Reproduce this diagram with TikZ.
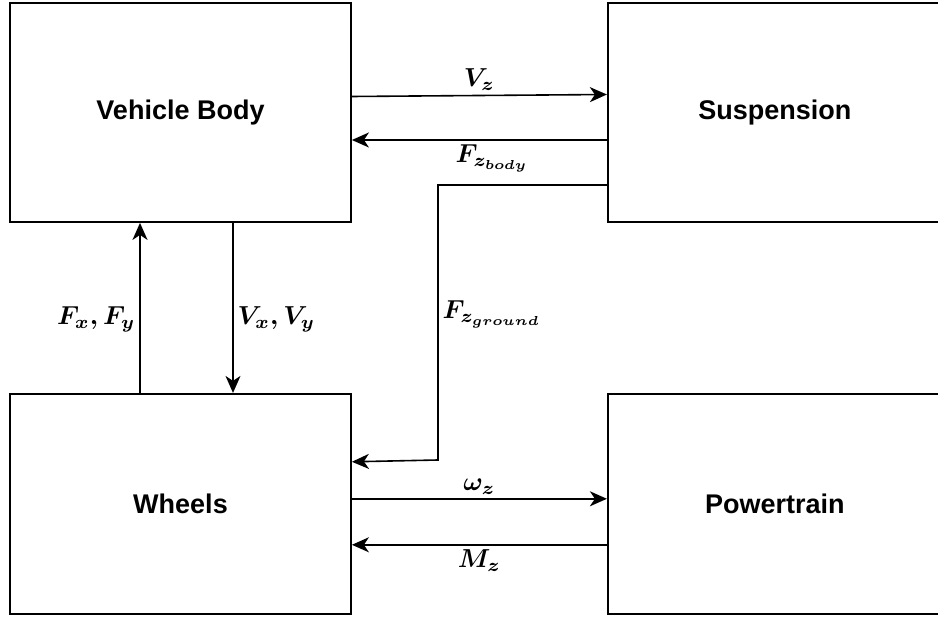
\documentclass[tikz,border=0pt]{standalone}
\usepackage{amsmath}
\usepackage{fontspec}
\setsansfont{Liberation Sans}
\usetikzlibrary{arrows.meta,positioning}

\begin{document}
\begin{tikzpicture}[
  blk/.style={draw,line width=1.8pt,minimum width=341pt,minimum height=219pt,
    inner sep=0pt,font=\sffamily\bfseries\fontsize{27}{31}\selectfont},
  sig/.style={scale=2.6,transform shape,inner sep=1pt},
  arr/.style={-{Stealth[length=17pt,width=15pt,inset=5pt]},line width=1.6pt}]
  \useasboundingbox (0,0) rectangle (938pt,-617pt);
  \node[blk] (body) at (180.5pt,-112.5pt) {Vehicle Body};
  \node[blk,minimum width=334pt,right=255pt of body] (susp) {Suspension};
  \node[blk,minimum height=220pt,below=170pt of body] (wheels) {Wheels};
  \node[blk,minimum width=334pt,minimum height=220pt,right=255pt of wheels] (power) {Powertrain};
  % body <-> suspension
  \draw[arr] ([yshift=16pt]body.east) -- node[sig,above] {$\boldsymbol{V_z}$} ([yshift=18pt]susp.west);
  \draw[arr] ([yshift=-27.5pt]susp.west) -- node[sig,below,pos=0.45] {$\boldsymbol{F_{z_{body}}}$} ([yshift=-27.5pt]body.east);
  % suspension -> wheels
  \coordinate (gtop) at (438pt,-185pt);
  \coordinate (gbot) at (438pt,-460pt);
  \draw[arr] ([yshift=-72.5pt]susp.west) -- (gtop) -- node[sig,right,pos=0.47] {$\boldsymbol{F_{z_{ground}}}$} (gbot) -- ([yshift=42pt]wheels.east);
  % body <-> wheels
  \draw[arr] ([xshift=-40.5pt]wheels.north) -- node[sig,left,pos=0.43] {$\boldsymbol{F_x, F_y}$} ([xshift=-40.5pt]body.south);
  \draw[arr] ([xshift=52.5pt]body.south) -- node[sig,right,pos=0.57] {$\boldsymbol{V_x, V_y}$} ([xshift=52.5pt]wheels.north);
  % wheels <-> powertrain
  \draw[arr] ([yshift=5pt]wheels.east) -- node[sig,above] {$\boldsymbol{\omega_z}$} ([yshift=5pt]power.west);
  \draw[arr] ([yshift=-41pt]power.west) -- node[sig,below] {$\boldsymbol{M_z}$} ([yshift=-41pt]wheels.east);
\end{tikzpicture}
\end{document}
